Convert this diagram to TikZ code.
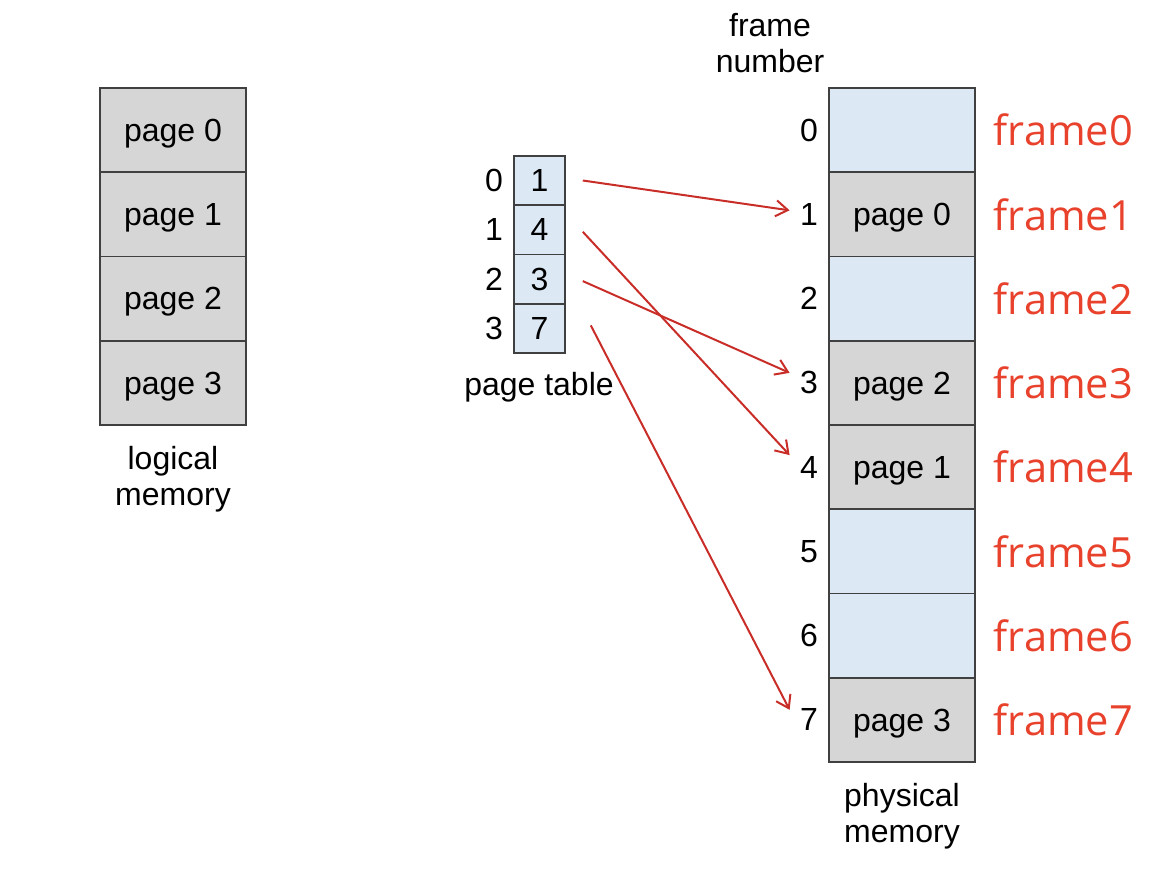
\documentclass[tikz,border=0pt]{standalone}
\usepackage{fontspec}
\setmainfont{Liberation Sans}
\newfontfamily\labelfont{Open Sans}
\usetikzlibrary{arrows.meta}
\colorlet{pagecolor}{black!16}
\definecolor{framecolor}{RGB}{220,233,245}
\definecolor{mapcolor}{RGB}{200,45,40}
\definecolor{namecolor}{RGB}{232,65,44}

\begin{document}
\begin{tikzpicture}
  [x=0.5pt,y=-0.5pt,
   % Styles
   cell/.style={draw=black!75,line width=0.8pt,minimum width=73pt,minimum height=42.1pt,
     inner sep=0pt,text depth=0pt,font=\fontsize{16}{19}\selectfont},
   page cell/.style={cell,fill=pagecolor},
   free cell/.style={cell,fill=framecolor},
   entry/.style={cell,fill=framecolor,minimum width=25.5pt,minimum height=24.6pt},
   index/.style={font=\fontsize{16}{19}\selectfont,inner sep=5pt},
   caption/.style={font=\fontsize{16}{18}\selectfont,align=center},
   frame name/.style={namecolor,font=\labelfont\fontsize{20.8}{24}\selectfont,anchor=west},
   map/.style={mapcolor,line width=1pt,-{Straight Barb[length=6pt,width=8pt]}}]

  \useasboundingbox (0,0) rectangle (1172,884);

  % Logical memory
  \foreach \i in {0,...,3}
    \node[page cell] (lm\i) at (173,130.1+84.25*\i) {page \i};
  \node[caption] (lmtext) at (173,479) {logical\\memory};

  % Page table
  \foreach \i/\f in {0/1,1/4,2/3,3/7} {
    \node[entry] (pt\i) at (539.5,180.5+49.3*\i) {\f};
    \node[index,left] (pi\i) at (pt\i.west) {\i};
  }
  \node[caption] (pttext) at (539,387) {page table};

  % Physical memory
  \node[caption] (fntext) at (770,43) {frame\\number};
  \foreach \i/\s/\p in {0/free cell/{},1/page cell/page 0,2/free cell/{},3/page cell/page 2,
                        4/page cell/page 1,5/free cell/{},6/free cell/{},7/page cell/page 3} {
    \node[\s] (pm\i) at (902,130.1+84.25*\i) {\p};
    \node[index,left] (fn\i) at (pm\i.west) {\i};
    \node[frame name] (fr\i) at ([xshift=5.5pt]pm\i.east) {frame\i};
  }
  \node[caption] (pmtext) at (902,816) {physical\\memory};

  % Mapping
  \draw[map] ([xshift=8.5pt]pt0.east) -- ([yshift=2pt]fn1.west);
  \draw[map] ([xshift=8.5pt,yshift=-1pt]pt1.east) -- ([yshift=6pt]fn4.west);
  \draw[map] ([xshift=8.5pt,yshift=-1pt]pt2.east) -- ([yshift=5pt]fn3.west);
  \draw[map] ([xshift=12.5pt,yshift=1.5pt]pt3.east) -- ([yshift=5pt]fn7.west);
\end{tikzpicture}
\end{document}
